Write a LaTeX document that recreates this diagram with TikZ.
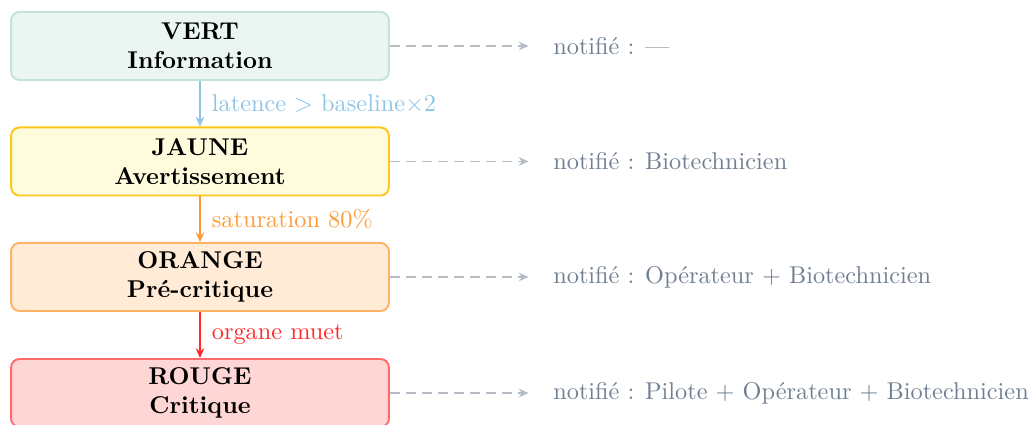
\documentclass[tikz,border=0pt]{standalone}
\usetikzlibrary{arrows.meta}
\definecolor{vertfill}{HTML}{EBF6F2}
\definecolor{vertdraw}{HTML}{C2E3D6}
\definecolor{jaunefill}{HTML}{FFFCDE}
\definecolor{jaunedraw}{HTML}{FFC61A}
\definecolor{orangefill}{HTML}{FFEBD6}
\definecolor{orangedraw}{HTML}{FFB366}
\definecolor{rougefill}{HTML}{FFD6D6}
\definecolor{rougedraw}{HTML}{FF6B6B}
\definecolor{lblue}{HTML}{8EC5E6}
\definecolor{lorange}{HTML}{FF9A33}
\definecolor{lred}{HTML}{FF2A2A}
\definecolor{notegray}{HTML}{6F7F91}
\definecolor{dashgray}{HTML}{B4BCC6}
\begin{document}
\begin{tikzpicture}[x=0.4115pt,y=-0.4115pt,
  level/.style={rectangle, rounded corners=3.5pt, line width=0.8pt,
    minimum width=155.5pt, minimum height=28pt, align=center,
    font=\bfseries, inner sep=0pt},
  flow/.style={line width=0.8pt, -{Stealth[length=4pt,width=3.5pt]}},
  flowlbl/.style={anchor=west, inner sep=2pt, xshift=2.5pt},
  notif/.style={line width=0.7pt, dashgray, dash pattern=on 4pt off 2.6pt,
    -{Stealth[length=4pt,width=3.5pt]}, shorten >=8pt},
  notetext/.style={anchor=west, text=notegray, inner sep=2pt}]
\useasboundingbox (0,0) rectangle (1030,425);
\node[level, fill=vertfill, draw=vertdraw] (vert) at (200,46) {VERT\\Information};
\node[level, fill=jaunefill, draw=jaunedraw] (jaune) at (200,161.5) {JAUNE\\Avertissement};
\node[level, fill=orangefill, draw=orangedraw] (orange) at (200,277) {ORANGE\\Pré-critique};
\node[level, fill=rougefill, draw=rougedraw] (rouge) at (200,393) {ROUGE\\Critique};

\draw[flow, lblue] (vert) -- node[flowlbl, text=lblue] {latence $>$ baseline$\times$2} (jaune);
\draw[flow, lorange] (jaune) -- node[flowlbl, text=lorange] {saturation 80\%} (orange);
\draw[flow, lred] (orange) -- node[flowlbl, text=lred] {organe muet} (rouge);

\node[notetext] (n1) at (548,46) {notifié : ---};
\node[notetext] (n2) at (548,161.5) {notifié : Biotechnicien};
\node[notetext] (n3) at (548,277) {notifié : Opérateur + Biotechnicien};
\node[notetext] (n4) at (548,393) {notifié : Pilote + Opérateur + Biotechnicien};

\draw[notif] (vert.east) -- (n1.west);
\draw[notif] (jaune.east) -- (n2.west);
\draw[notif] (orange.east) -- (n3.west);
\draw[notif] (rouge.east) -- (n4.west);
\end{tikzpicture}
\end{document}
